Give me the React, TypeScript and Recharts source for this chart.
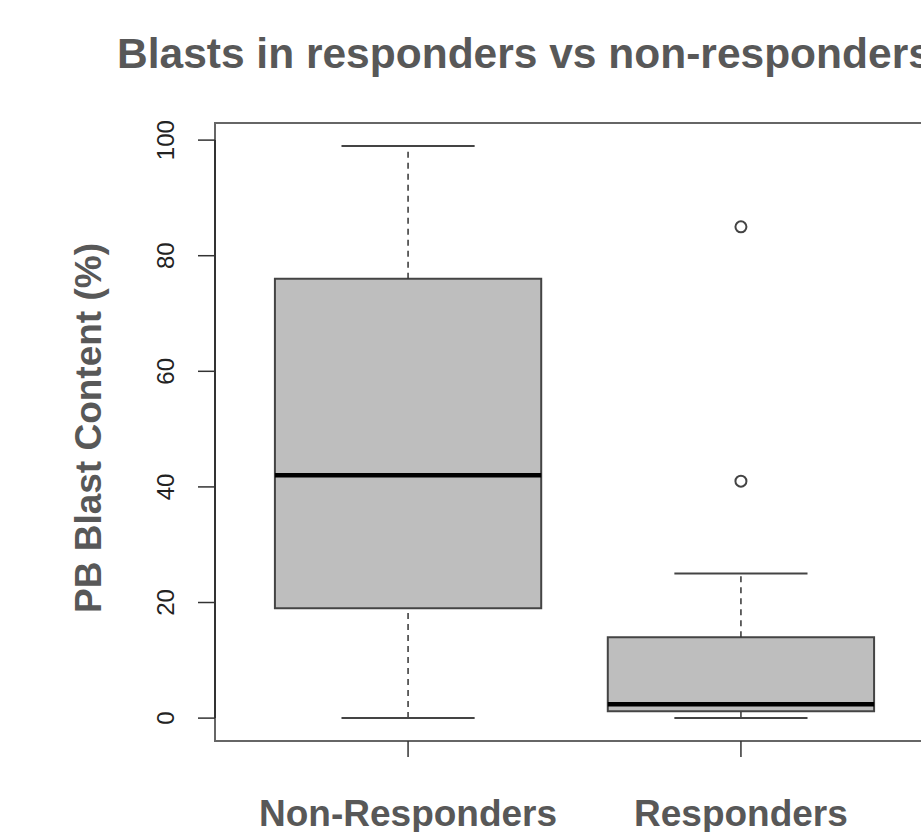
import { ComposedChart, XAxis, YAxis, ReferenceArea, ReferenceLine, Scatter, Customized } from 'recharts';

const groups = ['Non-Responders', 'Responders'];
const positions = [1, 2];
const minVals = [0, 0];
const q1Vals = [19, 1.2];
const medianVals = [42, 2.4];
const q3Vals = [76, 14];
const maxVals = [99, 25];
const outlierPositions = [2, 2];
const outlierVals = [41, 85];
const yTicks = [0, 20, 40, 60, 80, 100];

const FONT = '"Liberation Sans", Arial, Helvetica, sans-serif';
const TEXT_GREY = '#585858';
const X_DOMAIN: [number, number] = [0.42, 2.58];
const Y_DOMAIN: [number, number] = [-3.96, 102.96];

const outliers = outlierPositions.map((x, i) => ({ x, y: outlierVals[i] }));

function YTick({ y, payload }: any) {
  return (
    <text
      x={166}
      y={y}
      transform={`rotate(-90 166 ${y})`}
      textAnchor="middle"
      dominantBaseline="central"
      fontFamily={FONT}
      fontSize={24}
      fill="#222"
    >
      {payload.value}
    </text>
  );
}

function XTick({ x, payload }: any) {
  const idx = positions.indexOf(payload.value);
  return (
    <text x={x} y={826} textAnchor="middle" fontFamily={FONT} fontSize={37} fontWeight="bold" fill={TEXT_GREY}>
      {groups[idx]}
    </text>
  );
}

function Titles() {
  return (
    <g>
      <text x={117} y={68} fontFamily={FONT} fontSize={42.5} fontWeight="bold" fill={TEXT_GREY}>
        Blasts in responders vs non-responders
      </text>
      <text
        x={101}
        y={428}
        transform="rotate(-90 101 428)"
        textAnchor="middle"
        fontFamily={FONT}
        fontSize={37}
        fontWeight="bold"
        fill={TEXT_GREY}
      >
        PB Blast Content (%)
      </text>
    </g>
  );
}

export default function App() {
  return (
    <div style={{ position: 'absolute', left: 0, top: 0, width: 921, height: 832, overflow: 'hidden', background: '#fff' }}>
      <ComposedChart width={940} height={832} margin={{ top: 123, right: 6, left: 155, bottom: 51 }}>
        <XAxis
          type="number"
          dataKey="x"
          domain={X_DOMAIN}
          ticks={positions}
          height={40}
          axisLine={false}
          tickSize={16}
          tickLine={{ stroke: '#333', strokeWidth: 1.5 }}
          tick={<XTick />}
          allowDataOverflow
        />
        <YAxis
          type="number"
          dataKey="y"
          domain={Y_DOMAIN}
          ticks={yTicks}
          width={60}
          axisLine={false}
          tickSize={17}
          tickLine={{ stroke: '#333', strokeWidth: 1.5 }}
          tick={<YTick />}
          allowDataOverflow
        />
        <ReferenceArea x1={X_DOMAIN[0]} x2={X_DOMAIN[1]} y1={Y_DOMAIN[0]} y2={Y_DOMAIN[1]} fill="none" stroke="#666" strokeWidth={2} />
        <ReferenceLine segment={[{ x: X_DOMAIN[0], y: 0 }, { x: X_DOMAIN[0], y: 100 }]} stroke="#333" strokeWidth={2} />
        {positions.map((p, i) => (
          <ReferenceLine key={`wu${i}`} segment={[{ x: p, y: q3Vals[i] }, { x: p, y: maxVals[i] }]} stroke="#333" strokeWidth={1.5} strokeDasharray="6 5" />
        ))}
        {positions.map((p, i) => (
          <ReferenceLine key={`wl${i}`} segment={[{ x: p, y: minVals[i] }, { x: p, y: q1Vals[i] }]} stroke="#333" strokeWidth={1.5} strokeDasharray="6 5" />
        ))}
        {positions.map((p, i) => (
          <ReferenceLine key={`cu${i}`} segment={[{ x: p - 0.2, y: maxVals[i] }, { x: p + 0.2, y: maxVals[i] }]} stroke="#444" strokeWidth={2} />
        ))}
        {positions.map((p, i) => (
          <ReferenceLine key={`cl${i}`} segment={[{ x: p - 0.2, y: minVals[i] }, { x: p + 0.2, y: minVals[i] }]} stroke="#444" strokeWidth={2} />
        ))}
        {positions.map((p, i) => (
          <ReferenceArea key={`b${i}`} x1={p - 0.4} x2={p + 0.4} y1={q1Vals[i]} y2={q3Vals[i]} fill="#bebebe" fillOpacity={1} stroke="#444" strokeWidth={2} />
        ))}
        {positions.map((p, i) => (
          <ReferenceLine key={`m${i}`} segment={[{ x: p - 0.4, y: medianVals[i] }, { x: p + 0.4, y: medianVals[i] }]} stroke="#000" strokeWidth={4.5} />
        ))}
        <Scatter
          data={outliers}
          dataKey="y"
          isAnimationActive={false}
          shape={(props: any) => <circle cx={props.cx} cy={props.cy} r={5.5} fill="none" stroke="#444" strokeWidth={2} />}
        />
        <Customized component={Titles} />
      </ComposedChart>
    </div>
  );
}
